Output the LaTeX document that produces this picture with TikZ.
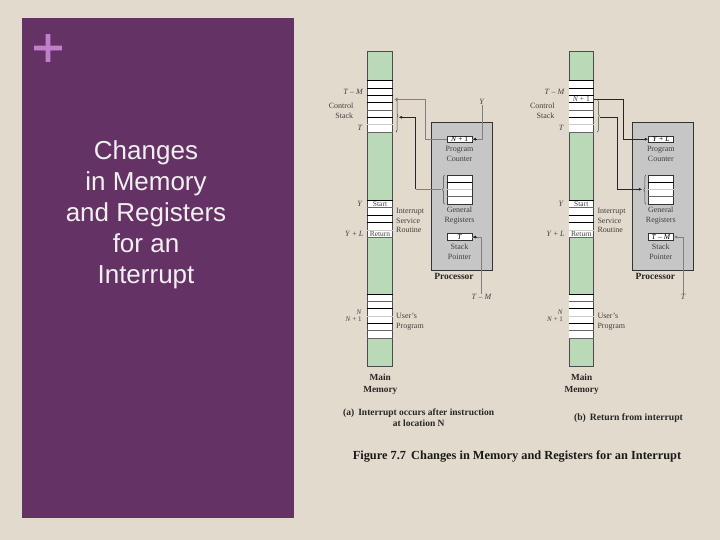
\documentclass[tikz,border=0pt]{standalone}
\usepackage{fontspec}
\setmainfont{Liberation Serif}
\newfontfamily\slidefont{Liberation Sans}
\newfontfamily\plusfont[FakeBold=1.6]{Liberation Sans}
\usepackage{tikz}
\usetikzlibrary{arrows.meta, decorations.pathreplacing}
\definecolor{paper}{HTML}{E2DBCD}
\definecolor{panel}{HTML}{643264}
\definecolor{plus}{HTML}{C07FC8}
\definecolor{memgreen}{HTML}{B9D9B7}
\definecolor{procgray}{HTML}{C6C6C6}

\begin{document}
\begin{tikzpicture}[
      x=1pt, y=-1pt,
      >={Latex[length=3.5pt,width=3pt]},
      memory/.style={rectangle, draw=black!70, fill=memgreen, line width=0.7pt, minimum width=24.6pt, inner sep=0pt},
      whitecell/.style={rectangle, fill=white, minimum width=24pt, inner sep=0pt},
      proc/.style={rectangle, draw=black!80, fill=procgray, line width=0.9pt, minimum width=61pt, minimum height=147.3pt, inner sep=0pt},
      reg/.style={rectangle, draw=black!80, fill=white, line width=0.7pt, minimum width=24.7pt, inner sep=0pt, font=\fontsize{7.5}{8}\selectfont},
      lbl/.style={inner sep=0pt, text=black!75, font=\fontsize{8}{9}\selectfont},
      boldlbl/.style={inner sep=0pt, text=black!85, font=\fontsize{9.5}{10}\selectfont\bfseries},
      rule/.style={draw=black, line width=0.7pt},
      thickrule/.style={draw=black!60, line width=1.1pt},
      faintrule/.style={draw=black!20, line width=0.5pt},
      conn/.style={draw=black!85, line width=0.7pt},
      softconn/.style={draw=black!50, line width=0.5pt},
      bracemark/.style={draw=black!75, line width=0.5pt, decorate, decoration={brace, amplitude=2pt}}
    ]
    \useasboundingbox (0,0) rectangle (720,540);
    \fill[paper] (0,0) rectangle (720,540);
    \fill[panel] (22,18) rectangle (294,518);
    \node[text=plus, inner sep=0pt, font=\plusfont\fontsize{55}{55}\selectfont] (plussign) at (48,50.5) {+};
    \node[align=center, inner sep=0pt, font=\slidefont\fontsize{26}{31}\selectfont, text=white!94!black] (title) at (146,215)
      {Changes\\in Memory\\and Registers\\for an\\Interrupt};

    % parts the two panels share
    \foreach \pfx/\dx in {a/0, b/201.3} {
      \begin{scope}[xshift=\dx, name prefix=\pfx-]
        \node[memory, minimum height=315.4pt] (mem) at (380,209) {};
        \node[whitecell, minimum height=52pt] (stack) at (380,106.3) {};
        \node[whitecell, minimum height=37pt] (isr) at (380,219.2) {};
        \node[whitecell, minimum height=44.3pt] (prog) at (380,316.15) {};
        \foreach \y/\s in {80.3/rule, 88.3/rule, 95.7/rule, 102.7/rule, 110.3/thickrule, 117.3/rule, 124.7/faintrule, 132.3/thickrule,
                           200.7/rule, 207.7/thickrule, 215.3/rule, 222.7/rule, 230/faintrule, 237.7/thickrule,
                           294/rule, 301.3/thickrule, 308.7/rule, 316/faintrule, 323.3/rule, 330.7/thickrule, 338.3/thickrule}
          \draw[\s] (mem.west |- 0,\y) -- (mem.east |- 0,\y);
        \node[lbl, font=\fontsize{7.5}{8}\selectfont] (start) at (380,204.3) {Start};
        \node[lbl, font=\fontsize{7.5}{8}\selectfont] (return) at (380,234) {Return};

        \node[proc] (cpu) at (461.8,196.35) {};
        \node[reg, minimum height=6.6pt] (pc) at (459.7,139.2) {};
        \node[reg, minimum height=29.3pt] (regs) at (459.7,189.65) {};
        \node[reg, minimum height=7.4pt] (sp) at (459.7,237) {};
        \foreach \y/\s in {182.3/rule, 189.7/faintrule, 196.7/thickrule}
          \draw[\s] (regs.west |- 0,\y) -- (regs.east |- 0,\y);

        \coordinate (stackbrace) at (398.5,117.3);
        \coordinate (regbrace) at (441,189.3);
        \draw[bracemark] (396,99.3) -- (396,132.3);
        \draw[bracemark] (444.5,204.3) -- (444.5,175);

        \node[lbl] (tm) at (353.3,92.3) {\textit{T} -- \textit{M}};
        \node[lbl] (control) at (341,105.7) {Control};
        \node[lbl] (stackname) at (344.3,116) {Stack};
        \node[lbl] (t) at (360,128) {\textit{T}};
        \node[lbl] (y) at (360,204.3) {\textit{Y}};
        \node[lbl] (yl) at (354.3,234) {\textit{Y} + \textit{L}};
        \node[lbl, anchor=west] (interrupt) at (396,211.7) {Interrupt};
        \node[lbl, anchor=west] (service) at (396,221) {Service};
        \node[lbl, anchor=west] (routine) at (396,230.3) {Routine};
        \node[lbl, align=center, font=\fontsize{8}{9.7}\selectfont] (pcname) at (459.5,154.2) {Program\\Counter};
        \node[lbl, align=center, font=\fontsize{8}{10}\selectfont] (regname) at (459.5,215.5) {General\\Registers};
        \node[lbl, align=center, font=\fontsize{8}{9.3}\selectfont] (spname) at (459.5,251.7) {Stack\\Pointer};
        \node[boldlbl] (procname) at (454,276.7) {Processor};
        \node[lbl, font=\fontsize{7}{8}\selectfont] (n) at (359,312.2) {\textit{N}};
        \node[lbl, font=\fontsize{7}{8}\selectfont] (n1) at (353.7,319.6) {\textit{N} + 1};
        \node[lbl, anchor=west] (users) at (396,316.3) {User's};
        \node[lbl, anchor=west] (program) at (396,326.3) {Program};
        \node[boldlbl, align=center, font=\fontsize{9.3}{11.7}\selectfont\bfseries] (memname) at (380.3,384) {Main\\Memory};
      \end{scope}
    }

    % panel (a)
    \node[inner sep=0pt, font=\fontsize{7.5}{8}\selectfont] (apc) at (a-pc) {\textit{N} + 1};
    \node[inner sep=0pt, font=\fontsize{7.5}{8}\selectfont] (asp) at (a-sp) {\textit{T}};
    \node[lbl] (ay) at (482,102) {\textit{Y}};
    \node[lbl] (atm) at (481.7,297.3) {\textit{T} -- \textit{M}};
    \coordinate (astacktop) at (394,99.3);
    \draw[softconn, ->] (a-pc.west) -- ++(-21.6,0) |- (astacktop);
    \draw[softconn] (ay) |- (a-pc.east);
    \draw[conn, ->] (477,139.2) -- (a-pc.east);
    \draw[softconn] (atm) |- (a-sp.east);
    \draw[conn, ->] (477,237) -- (a-sp.east);
    \draw[softconn] (a-regbrace) -- ++(-25.3,0) coordinate (aelbow);
    \draw[conn, ->] (aelbow) |- (a-stackbrace);

    % panel (b)
    \node[inner sep=0pt, text=black!75, font=\fontsize{7.5}{8}\selectfont] (bcell) at (581.3,99.2) {\textit{N} + 1};
    \node[inner sep=0pt, font=\fontsize{7.5}{8}\selectfont] (bpc) at (b-pc) {\textit{Y} + \textit{L}};
    \node[inner sep=0pt, font=\fontsize{7.5}{8}\selectfont] (bsp) at (b-sp) {\textit{T} -- \textit{M}};
    \node[lbl] (bt) at (683.3,296.7) {\textit{T}};
    \coordinate (bcellend) at (b-mem.east |- 0,99.3);
    \draw[conn, ->] (bcellend) -- ++(29.4,0) |- (b-pc.west);
    \draw[softconn, ->] (bt) |- (b-sp.east);
    \draw[conn, ->] (b-stackbrace) -- ++(17.2,0) |- (b-regbrace);

    % captions
    \node[align=center, inner sep=0pt, text=black!85, font=\fontsize{9.5}{10.7}\selectfont\bfseries] (capa) at (418.7,417.8)
      {(a)\, Interrupt occurs after instruction\\at location N};
    \node[inner sep=0pt, text=black!85, font=\fontsize{9.7}{10}\selectfont\bfseries] (capb) at (628.5,418.3) {(b)\, Return from interrupt};
    \node[inner sep=0pt, text=black!90, font=\fontsize{12.35}{13}\selectfont\bfseries] (figcap) at (517,456.5)
      {Figure 7.7\, Changes in Memory and Registers for an Interrupt};
  \end{tikzpicture}
\end{document}
